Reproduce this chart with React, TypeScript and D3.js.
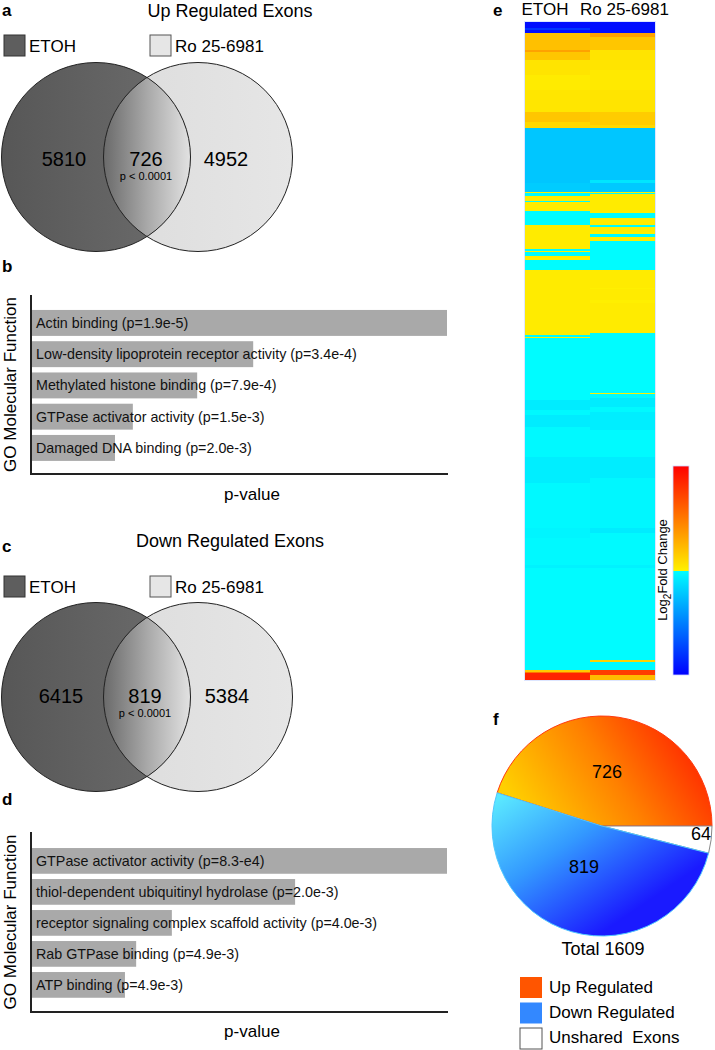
import React from 'react';
import * as d3 from 'd3';

const FONT = '"Liberation Sans", Arial, Helvetica, sans-serif';

// ---------- data ----------
const vennGroups = ['ETOH', 'Ro 25-6981'];
const upVennCounts = [5810, 726, 4952];
const downVennCounts = [6415, 819, 5384];
const vennPValue = 'p < 0.0001';

const upGoTerms = [
  'Actin binding (p=1.9e-5)',
  'Low-density lipoprotein receptor activity (p=3.4e-4)',
  'Methylated histone binding (p=7.9e-4)',
  'GTPase activator activity (p=1.5e-3)',
  'Damaged DNA binding (p=2.0e-3)',
];
const upGoScores = [100, 53.3, 39.8, 24.3, 20.0];

const downGoTerms = [
  'GTPase activator activity (p=8.3-e4)',
  'thiol-dependent ubiquitinyl hydrolase (p=2.0e-3)',
  'receptor signaling complex scaffold activity (p=4.0e-3)',
  'Rab GTPase binding (p=4.9e-3)',
  'ATP binding (p=4.9e-3)',
];
const downGoScores = [100, 63.4, 33.7, 25.1, 22.4];

const heatColumns = ['ETOH', 'Ro 25-6981'];
// runs of rows: [number of rows, log2 fold change]
const etohRuns: [number, number][] = [
  [6, -1.9], [2, -1.6], [3, -1.9],
  [17, 0.4], [2, 0.65], [8, 0.35],
  [15, 0.1], [15, 0.04], [22, 0.08],
  [10, 0.35], [6, 0.2],
  [55, -0.45], [9, -0.4],
  [1, 0.02], [3, -0.02], [5, 0.04], [1, -0.02], [8, 0.04], [1, 0.02], [1, -0.02],
  [13, -0.02], [24, 0.04],
  [2, -0.02], [1, 0.02], [4, -0.02], [4, 0.04], [10, -0.02],
  [65, 0.04],
  [2, -0.02], [1, 0.04], [62, -0.02],
  [10, -0.15], [5, -0.05], [12, -0.15], [30, -0.05], [26, -0.13], [45, -0.05],
  [10, -0.08], [27, -0.05], [3, -0.1], [102, -0.03],
  [2, 0.3], [1, 1.0], [7, 1.7],
];
const roRuns: [number, number][] = [
  [11, -1.9],
  [4, 0.65], [13, 0.35],
  [20, 0.1], [20, 0.06], [22, 0.1],
  [13, 0.3], [3, 0.2],
  [52, -0.45], [3, -0.2], [9, -0.42],
  [1, 0.02], [1, -0.02],
  [18, 0.04],
  [1, 0.02], [5, -0.02], [7, 0.04], [2, -0.02], [5, 0.04], [2, 0.01], [3, -0.02], [4, 0.04], [29, -0.02],
  [18, 0.04], [1, 0.01], [11, 0.04], [3, 0.01], [30, 0.04],
  [60, -0.02],
  [1, 0.01], [4, -0.03], [9, -0.15], [5, -0.05], [18, -0.13], [27, -0.04], [21, -0.14],
  [50, -0.06], [5, -0.15], [32, -0.04], [3, -0.1], [92, -0.02],
  [2, 0.25], [8, -0.02], [5, 1.5], [5, 0.45],
];
const colorbarLabel = 'Fold Change';

const pieCounts = [726, 64, 819];
const pieTotal = 1609;
const legendLabels = ['Up Regulated', 'Down Regulated', 'Unshared\u00a0\u00a0Exons'];

// ---------- helpers ----------
const fcColor = (v: number) =>
  v < 0
    ? d3.interpolateRgb('#00ffff', '#0000ff')(Math.min(1, -v / 2))
    : d3.interpolateRgb('#fff000', '#ff0000')(Math.min(1, v / 2));

function Venn({ id, title, titleY, legendY, cy, counts, numY, pY }: any) {
  const r = 94.5;
  const cxL = 96;
  const cxR = 198;
  return (
    <g>
      <defs>
        <linearGradient id={`${id}-l`} x1="0" y1="0" x2="1" y2="0">
          <stop offset="0" stopColor="#575757" />
          <stop offset="1" stopColor="#6d6d6d" />
        </linearGradient>
        <linearGradient id={`${id}-r`} x1="0" y1="0" x2="1" y2="0">
          <stop offset="0" stopColor="#dcdcdc" />
          <stop offset="1" stopColor="#e6e6e6" />
        </linearGradient>
        <linearGradient id={`${id}-i`} gradientUnits="userSpaceOnUse" x1={cxR - r} y1="0" x2={cxL + r} y2="0">
          <stop offset="0" stopColor="#6a6a6a" />
          <stop offset="0.5" stopColor="#a8a8a8" />
          <stop offset="1" stopColor="#e2e2e2" />
        </linearGradient>
        <clipPath id={`${id}-clip`}>
          <circle cx={cxL} cy={cy} r={r} />
        </clipPath>
      </defs>
      <text x={230} y={titleY} fontSize={18} textAnchor="middle">{title}</text>
      <rect x={4} y={legendY} width={21} height={21} fill="#5e5e5e" stroke="#333" strokeWidth={1} />
      <text x={29} y={legendY + 17} fontSize={17}>{vennGroups[0]}</text>
      <rect x={150} y={legendY} width={21} height={21} fill="#e6e6e6" stroke="#555" strokeWidth={1} />
      <text x={175} y={legendY + 17} fontSize={17}>{vennGroups[1]}</text>
      <circle cx={cxR} cy={cy} r={r} fill={`url(#${id}-r)`} />
      <circle cx={cxL} cy={cy} r={r} fill={`url(#${id}-l)`} />
      <circle cx={cxR} cy={cy} r={r} fill={`url(#${id}-i)`} clipPath={`url(#${id}-clip)`} />
      <circle cx={cxL} cy={cy} r={r} fill="none" stroke="#222" strokeWidth={1} />
      <circle cx={cxR} cy={cy} r={r} fill="none" stroke="#222" strokeWidth={1} />
      <text x={counts.x[0]} y={numY} fontSize={20} textAnchor="middle">{counts.v[0]}</text>
      <text x={counts.x[1]} y={numY} fontSize={20} textAnchor="middle">{counts.v[1]}</text>
      <text x={counts.x[2]} y={numY} fontSize={20} textAnchor="middle">{counts.v[2]}</text>
      <text x={counts.x[1]} y={pY} fontSize={11} textAnchor="middle">{vennPValue}</text>
    </g>
  );
}

function GoBars({ terms, scores, axisTop, axisBottom, bandStart, step, labelY }: any) {
  const axisX = 31;
  const x = d3.scaleLinear().domain([0, 100]).range([axisX + 1, 447]);
  const y = d3
    .scaleBand<string>()
    .domain(terms)
    .range([bandStart, bandStart + step * terms.length])
    .paddingInner(0.17)
    .paddingOuter(0.085);
  const cyAxis = (axisTop + axisBottom) / 2;
  return (
    <g>
      {terms.map((t: string, i: number) => (
        <g key={t}>
          <rect x={x(0)} y={y(t)} width={x(scores[i]) - x(0)} height={y.bandwidth()} fill="#a9a9a9" />
          <text x={36} y={(y(t) as number) + y.bandwidth() / 2 + 5} fontSize={14.3} fill="#111">{t}</text>
        </g>
      ))}
      <line x1={axisX} x2={axisX} y1={axisTop} y2={axisBottom} stroke="#222" strokeWidth={2} />
      <line x1={axisX - 1} x2={448} y1={axisBottom} y2={axisBottom} stroke="#222" strokeWidth={2} />
      <text x={252} y={labelY} fontSize={17} textAnchor="middle">p-value</text>
      <text transform={`translate(16,${cyAxis}) rotate(-90)`} fontSize={17} textAnchor="middle">GO Molecular Function</text>
    </g>
  );
}

function Heatmap() {
  const total = d3.sum(etohRuns, (d) => d[0]);
  const y = d3.scaleLinear().domain([0, total]).range([22, 680]);
  const x = d3.scaleBand<string>().domain(heatColumns).range([525, 655]);
  const cols = [etohRuns, roRuns];
  const cells: any[] = [];
  cols.forEach((runs, ci) => {
    let acc = 0;
    runs.forEach(([n, v], ri) => {
      cells.push(
        <rect
          key={`${ci}-${ri}`}
          x={x(heatColumns[ci])}
          y={y(acc)}
          width={x.bandwidth()}
          height={y(acc + n) - y(acc) + 0.3}
          fill={fcColor(v)}
        />
      );
      acc += n;
    });
  });
  const cb = d3.scaleLinear().domain([2, -2]).range([466, 675]);
  const posStops = d3.range(2, -0.0001, -0.25);
  const negStops = d3.range(-0.0001, -2.0001, -0.25).concat([-2]);
  return (
    <g>
      <defs>
        <linearGradient id="cbgrad" x1="0" y1="0" x2="0" y2="1">
          {posStops.map((v, i) => (
            <stop key={`p${i}`} offset={(cb(v) - 466) / (675 - 466)} stopColor={fcColor(v)} />
          ))}
          {negStops.map((v, i) => (
            <stop key={`n${i}`} offset={(cb(v) - 466) / (675 - 466)} stopColor={fcColor(v)} />
          ))}
        </linearGradient>
      </defs>
      <text x={493} y={16} fontSize={17} fontWeight="bold">e</text>
      <text x={545} y={15} fontSize={17} textAnchor="middle">{heatColumns[0]}</text>
      <text x={580} y={15} fontSize={17}>{heatColumns[1]}</text>
      {cells}
      <rect x={524.5} y={21.5} width={131} height={659} fill="none" stroke="#dde6ff" strokeWidth={1} />
      <rect x={673} y={cb(2)} width={16} height={cb(-2) - cb(2)} fill="url(#cbgrad)" stroke="#cfd8ff" strokeWidth={0.8} />
      <text transform="translate(667,570) rotate(-90)" fontSize={13} textAnchor="middle">
        Log<tspan fontSize={10} dy={4}>2</tspan><tspan dy={-4}>{colorbarLabel}</tspan>
      </text>
    </g>
  );
}

function Pie() {
  const cx = 602;
  const cy = 826;
  const r = 110;
  const start = Math.PI / 2 - (2 * Math.PI * pieCounts[0]) / pieTotal;
  const arcs = d3.pie<number>().sort(null).startAngle(start).endAngle(start + 2 * Math.PI)(pieCounts);
  const arc = d3.arc<d3.PieArcDatum<number>>().innerRadius(0).outerRadius(r);
  const fills = ['url(#pieUp)', '#ffffff', 'url(#pieDown)'];
  const strokes = ['#ff3a10', '#888888', '#4fc8ff'];
  const labelPos = [
    [607, 778],
    [701, 840],
    [584, 873],
  ];
  const legendFills = ['#ff5500', '#3388ff', '#ffffff'];
  return (
    <g>
      <defs>
        <linearGradient id="pieUp" gradientUnits="userSpaceOnUse" x1={98} y1={-92} x2={-62} y2={14}>
          <stop offset="0" stopColor="#ff1e00" />
          <stop offset="0.5" stopColor="#ff8000" />
          <stop offset="1" stopColor="#ffcf00" />
        </linearGradient>
        <linearGradient id="pieDown" gradientUnits="userSpaceOnUse" x1={-100} y1={-30} x2={-5} y2={110}>
          <stop offset="0" stopColor="#5ae8ff" />
          <stop offset="0.45" stopColor="#3399ff" />
          <stop offset="1" stopColor="#1a1aff" />
        </linearGradient>
      </defs>
      <text x={493} y={725} fontSize={17} fontWeight="bold">f</text>
      <g transform={`translate(${cx},${cy})`}>
        {arcs.map((a, i) => (
          <path key={i} d={arc(a) as string} fill={fills[i]} stroke={strokes[i]} strokeWidth={1} />
        ))}
      </g>
      {pieCounts.map((c, i) => (
        <text key={i} x={labelPos[i][0]} y={labelPos[i][1]} fontSize={18} textAnchor="middle">{c}</text>
      ))}
      <text x={603} y={955} fontSize={18} textAnchor="middle">Total {pieTotal}</text>
      {legendLabels.map((l, i) => (
        <g key={l}>
          <rect x={520} y={977 + i * 25.5} width={22} height={21} fill={legendFills[i]} stroke={i === 2 ? '#555' : 'none'} strokeWidth={1} />
          <text x={549} y={993 + i * 25} fontSize={17}>{l}</text>
        </g>
      ))}
    </g>
  );
}

export default function App() {
  return (
    <svg
      width={715}
      height={1050}
      viewBox="0 0 715 1050"
      style={{ position: 'absolute', left: 0, top: 0, background: '#fff', fontFamily: FONT }}
      fontFamily={FONT}
    >
      <rect x={0} y={0} width={715} height={1050} fill="#fff" />
      <text x={2} y={16} fontSize={17} fontWeight="bold">a</text>
      <Venn
        id="vup"
        title="Up Regulated Exons"
        titleY={17}
        legendY={35}
        cy={157}
        counts={{ v: upVennCounts, x: [64, 146, 226] }}
        numY={166}
        pY={180}
      />
      <text x={2} y={272} fontSize={17} fontWeight="bold">b</text>
      <GoBars terms={upGoTerms} scores={upGoScores} axisTop={295} axisBottom={474} bandStart={307.3} step={31.25} labelY={500} />

      <text x={2} y={552} fontSize={17} fontWeight="bold">c</text>
      <Venn
        id="vdown"
        title="Down Regulated Exons"
        titleY={547}
        legendY={576}
        cy={697}
        counts={{ v: downVennCounts, x: [61, 145, 227] }}
        numY={703}
        pY={717}
      />
      <text x={2} y={805} fontSize={17} fontWeight="bold">d</text>
      <GoBars terms={downGoTerms} scores={downGoScores} axisTop={832} axisBottom={1012} bandStart={845.4} step={31} labelY={1037} />

      <Heatmap />
      <Pie />
    </svg>
  );
}
